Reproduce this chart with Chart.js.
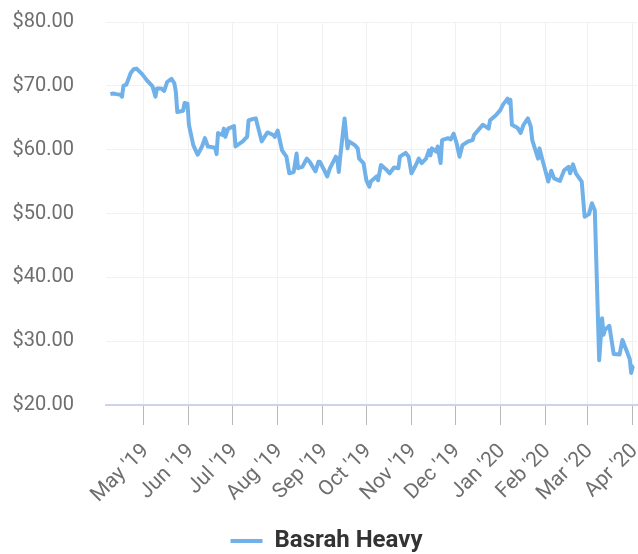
<!DOCTYPE html>
<html><head><meta charset="utf-8">
<script src="https://cdn.jsdelivr.net/npm/chart.js@4.4.0/dist/chart.umd.min.js"></script>
<style>html,body{margin:0;padding:0;background:#fff}#wrap{width:638px;height:554px;position:relative}</style>
</head><body><div id="wrap"><canvas id="c"></canvas></div>
<script>
const seriesName = 'Basrah Heavy';
const dates = [
'2019-04-08','2019-04-10','2019-04-12','2019-04-15','2019-04-16','2019-04-17','2019-04-19','2019-04-22','2019-04-24','2019-04-26','2019-04-30',
'2019-05-03','2019-05-07','2019-05-09','2019-05-10','2019-05-13','2019-05-15','2019-05-17','2019-05-20','2019-05-22','2019-05-23','2019-05-24','2019-05-28','2019-05-29','2019-05-31',
'2019-06-01','2019-06-04','2019-06-06','2019-06-07','2019-06-10','2019-06-12','2019-06-14','2019-06-17','2019-06-19','2019-06-20','2019-06-21','2019-06-24','2019-06-25','2019-06-26','2019-06-28',
'2019-07-02','2019-07-03','2019-07-08','2019-07-10','2019-07-11','2019-07-12','2019-07-15','2019-07-17','2019-07-21','2019-07-23','2019-07-25','2019-07-29','2019-07-30',
'2019-08-01','2019-08-04','2019-08-07','2019-08-09','2019-08-12','2019-08-14','2019-08-15','2019-08-18','2019-08-21','2019-08-23','2019-08-27','2019-08-29','2019-08-30',
'2019-09-02','2019-09-04','2019-09-06','2019-09-10','2019-09-11','2019-09-12','2019-09-13','2019-09-16','2019-09-18','2019-09-19','2019-09-23','2019-09-25','2019-09-26','2019-09-29',
'2019-10-01','2019-10-03','2019-10-04','2019-10-08','2019-10-09','2019-10-11','2019-10-15','2019-10-17','2019-10-20','2019-10-23','2019-10-24','2019-10-28','2019-10-30',
'2019-11-01','2019-11-04','2019-11-06','2019-11-08','2019-11-11','2019-11-13','2019-11-14','2019-11-15','2019-11-18','2019-11-19','2019-11-21','2019-11-22','2019-11-26','2019-11-28','2019-11-30',
'2019-12-02','2019-12-04','2019-12-06','2019-12-10','2019-12-13','2019-12-14','2019-12-17','2019-12-20','2019-12-22','2019-12-24','2019-12-25','2019-12-29',
'2020-01-01','2020-01-03','2020-01-06','2020-01-07','2020-01-08','2020-01-09','2020-01-13','2020-01-15','2020-01-17','2020-01-20','2020-01-22','2020-01-23','2020-01-27','2020-01-28','2020-01-30',
'2020-02-03','2020-02-05','2020-02-07','2020-02-11','2020-02-14','2020-02-17','2020-02-18','2020-02-20','2020-02-22','2020-02-26','2020-02-28',
'2020-03-02','2020-03-04','2020-03-06','2020-03-09','2020-03-11','2020-03-12','2020-03-13','2020-03-16','2020-03-19','2020-03-23','2020-03-25','2020-03-27','2020-03-30','2020-03-31',
'2020-04-01','2020-04-02'
];
const prices = [
68.7,68.8,68.7,68.6,68.3,70.0,70.2,72.0,72.6,72.7,71.8,
70.9,69.9,68.3,69.6,69.6,69.2,70.6,71.1,70.4,69.1,65.9,66.1,67.3,67.2,
63.9,60.7,59.7,59.2,60.5,61.8,60.5,60.4,60.3,59.3,62.6,62.3,63.3,62.0,63.3,
63.7,60.5,61.3,61.8,62.0,64.6,64.8,64.9,61.3,62.0,62.7,62.3,62.0,
63.0,59.9,58.9,56.3,56.5,59.4,57.1,57.3,58.6,58.1,56.6,58.1,58.1,
56.8,55.8,57.1,58.9,58.5,56.5,58.9,64.9,60.2,61.3,60.7,60.2,58.6,57.9,
55.2,54.2,55.0,55.8,55.2,57.6,56.8,56.3,57.2,57.1,58.9,59.5,58.9,
56.3,57.6,58.6,57.9,58.6,59.9,59.1,60.2,59.7,60.5,57.9,61.5,61.8,61.6,62.5,
61.0,58.9,60.7,61.3,61.5,62.3,63.1,63.9,63.6,63.3,64.6,65.4,
66.2,67.1,68.0,67.3,67.8,63.9,63.4,62.6,63.9,64.9,63.6,61.5,58.6,60.2,58.4,
55.0,56.7,55.5,55.1,56.8,57.3,56.3,57.7,56.3,55.0,49.5,
49.9,51.6,50.5,27.0,33.6,31.0,31.8,32.4,28.0,27.9,30.2,29.0,27.2,25.0,
26.0,26.1
];
const monthTicks = ['2019-05-01','2019-06-01','2019-07-01','2019-08-01','2019-09-01','2019-10-01','2019-11-01','2019-12-01','2020-01-01','2020-02-01','2020-03-01','2020-04-01'];
const monthLabels = ["May '19","Jun '19","Jul '19","Aug '19","Sep '19","Oct '19","Nov '19","Dec '19","Jan '20","Feb '20","Mar '20","Apr '20"];
const yTicks = [20,30,40,50,60,70,80];
const xRange = ['2019-04-05','2020-04-04'];

function dayNum(s){const p=s.split('-').map(Number);return Date.UTC(p[0],p[1]-1,p[2])/86400000;}
const points = dates.map((d,i)=>({x:dayNum(d),y:prices[i]}));
const labelMap = {};
monthTicks.forEach((d,i)=>{labelMap[dayNum(d)] = monthLabels[i];});

Chart.defaults.font.family = 'Roboto';
const shiftLegend = {
  id:'shiftLegend',
  afterLayout(chart){ const l = chart.legend; if(l){ l.top += 9; l.bottom += 9; l.left += 8; l.right += 8; } }
};
new Chart(document.getElementById('c'), {
  type:'line',
  data:{datasets:[{label:seriesName,data:points,borderColor:'#71b1ea',backgroundColor:'#71b1ea',borderWidth:4,pointRadius:0,pointHoverRadius:0,fill:false,tension:0,borderJoinStyle:'round',borderCapStyle:'butt'}]},
  options:{
    responsive:true, maintainAspectRatio:false, animation:false, devicePixelRatio:1,
    layout:{padding:{top:22,left:0,right:1,bottom:0}},
    plugins:{
      tooltip:{enabled:false},
      legend:{position:'bottom',labels:{usePointStyle:true,pointStyle:'line',pointStyleWidth:32,font:{size:24,weight:'bold'},color:'#333',padding:10}}
    },
    scales:{
      x:{type:'linear',min:dayNum(xRange[0]),max:dayNum(xRange[1]),
        afterBuildTicks:s=>{s.ticks = monthTicks.map(d=>({value:dayNum(d)}));},
        afterFit:s=>{s.paddingLeft=0;s.paddingRight=0;s.height=105;},
        ticks:{autoSkip:false,minRotation:45,maxRotation:45,padding:14,labelOffset:2,font:{size:21},color:'#6e6e6e',callback:v=>labelMap[v]},
        grid:{color:'#f1f1f1',tickColor:'#b8b8b8',tickLength:20,lineWidth:1},
        border:{color:'#ccd4ec',width:2}
      },
      y:{min:20,max:80,
        afterBuildTicks:s=>{s.ticks = yTicks.map(v=>({value:v}));},
        afterFit:s=>{s.width=106;s.paddingTop=0;s.paddingBottom=0;},
        ticks:{padding:32,font:{size:20},color:'#6e6e6e',callback:v=>'$'+Number(v).toFixed(2)},
        grid:{color:'#f1f1f1',drawTicks:false},
        border:{display:false}
      }
    }
  },
  plugins:[shiftLegend]
});
</script></body></html>
